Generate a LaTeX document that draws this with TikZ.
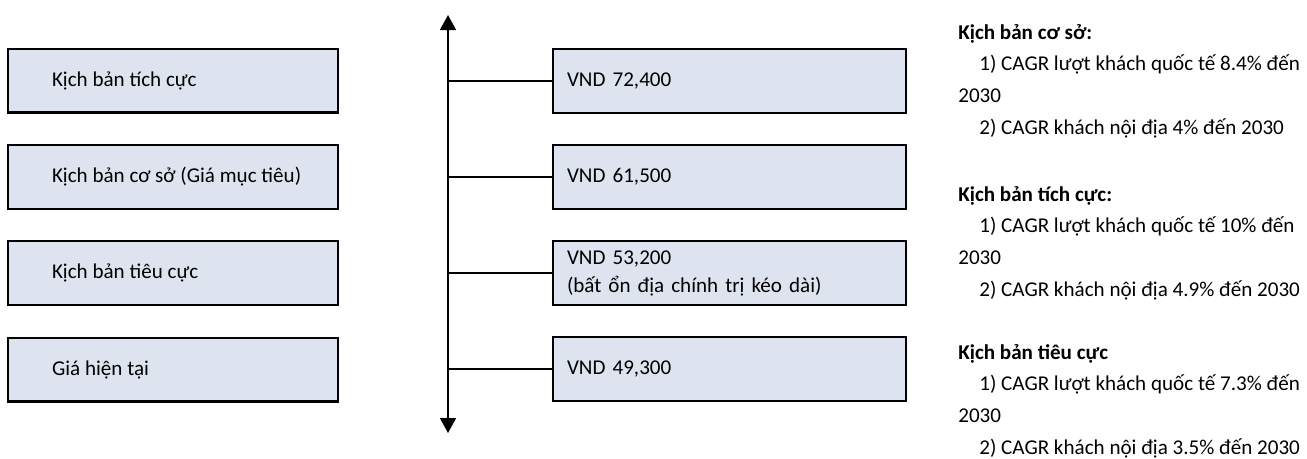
\documentclass[tikz,border=0pt]{standalone}
\usepackage{fontspec}
\setmainfont{Carlito}
\usetikzlibrary{arrows.meta}
\definecolor{boxfill}{RGB}{222,228,239}
\newcommand{\padleft}[1]{\makebox[4.84cm][l]{#1}}
\newcommand{\indentnote}{\hspace*{0.42cm}}

\begin{document}
\begin{tikzpicture}[x=0.02cm, y=-0.02cm,
  font=\fontsize{12}{16}\selectfont,
  scenario/.style={draw, line width=1.15pt, fill=boxfill, minimum width=6.6cm,
    minimum height=1.28cm, inner xsep=0.88cm, inner ysep=0pt},
  price/.style={draw, line width=1.15pt, fill=boxfill, minimum width=7.06cm,
    minimum height=1.28cm, text width=6.5cm, inner xsep=0.28cm, align=left},
  note/.style={anchor=north west, inner sep=0pt, align=left,
    font=\fontsize{12}{18}\selectfont}]
  \useasboundingbox (0,0) rectangle (1307,458);

  % Scenario boxes on the left
  \node[scenario] (s1) at (173,80.5) {\padleft{Kịch bản tích cực}};
  \node[scenario] (s2) at (173,177) {\padleft{Kịch bản cơ sở (Giá mục tiêu)}};
  \node[scenario] (s3) at (173,273) {\padleft{Kịch bản tiêu cực}};
  \node[scenario] (s4) at (173,369.5) {\padleft{Giá hiện tại}};

  % Price boxes
  \node[price] (p1) at (729.5,81) {VND 72,400};
  \node[price] (p2) at (729.5,177) {VND 61,500};
  \node[price] (p3) at (729.5,273) {VND 53,200\\(bất ổn địa chính trị kéo dài)};
  \node[price] (p4) at (729.5,369) {VND 49,300};

  % Draw the vertical axis with arrows at both ends
  \coordinate (top) at (448,15);
  \coordinate (bottom) at (448,433);
  \draw[{Triangle[width=0.32cm,length=0.3cm]}-{Triangle[width=0.32cm,length=0.3cm]},
    line width=0.85pt] (top) -- (bottom);

  % Ticks from the axis to the price boxes
  \foreach \n in {1,...,4} {
    \coordinate (t\n) at (p\n.west -| top);
    \draw[line width=0.85pt] (t\n) -- (p\n.west);
  }

  % Notes on the right
  \node[note] (n1) at (958,24) {\textbf{Kịch bản cơ sở:}\\
    \indentnote 1) CAGR lượt khách quốc tế 8.4\% đến\\
    2030\\
    \indentnote 2) CAGR khách nội địa 4\% đến 2030};
  \node[note] (n2) at (958,186) {\textbf{Kịch bản tích cực:}\\
    \indentnote 1) CAGR lượt khách quốc tế 10\% đến\\
    2030\\
    \indentnote 2) CAGR khách nội địa 4.9\% đến 2030};
  \node[note] (n3) at (958,344) {\textbf{Kịch bản tiêu cực}\\
    \indentnote 1) CAGR lượt khách quốc tế 7.3\% đến\\
    2030\\
    \indentnote 2) CAGR khách nội địa 3.5\% đến 2030};

\end{tikzpicture}
\end{document}
